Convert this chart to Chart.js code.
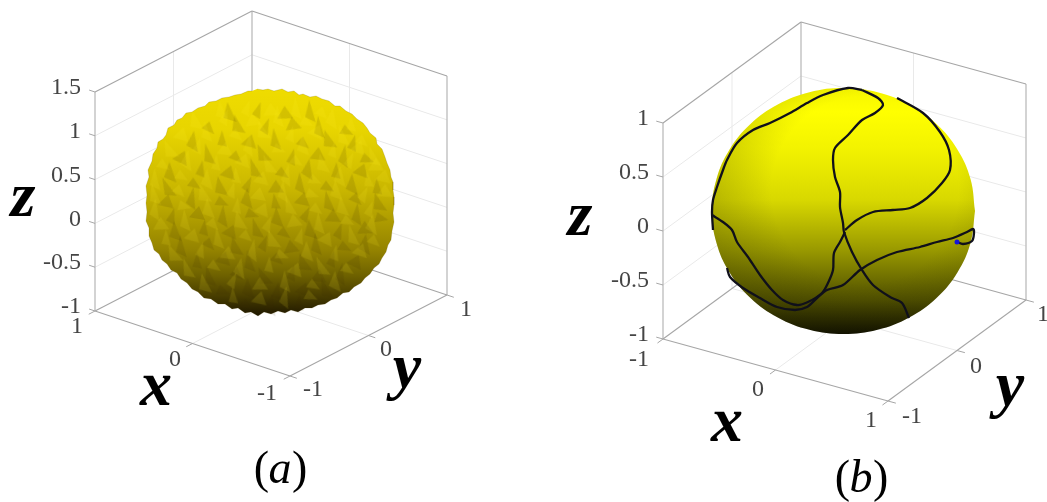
<!DOCTYPE html>
<html>
<head>
<meta charset="utf-8">
<title>sphere</title>
<script src="https://cdn.jsdelivr.net/npm/chart.js@4"></script>
<style>
  html, body { margin: 0; padding: 0; background: #fff; overflow: hidden; }
  canvas { display: block; }
</style>
</head>
<body>
<canvas id="chart" width="1047" height="502"></canvas>
<script>
// tick values
const xTicks = [-1, 0, 1];
const yTicks = [-1, 0, 1];
const zTicksA = [-1, -0.5, 0, 0.5, 1, 1.5];
const zTicksB = [-1, -0.5, 0, 0.5, 1];

// rough surface of (a), outline
const roughOutline = [[257,89],[263,90],[268,89],[274,91],[282,89],[288,92],[294,91],[299,95],[303,94],[310,97],[316,96],[322,99],[329,101],[335,106],[340,106],[346,111],[352,114],[357,119],[363,123],[367,128],[370,133],[376,138],[377,144],[382,149],[385,157],[387,163],[390,170],[391,177],[393,182],[393,190],[394,197],[394,205],[393,213],[394,222],[392,231],[391,240],[388,245],[386,252],[382,258],[379,264],[374,268],[370,274],[365,278],[361,283],[354,287],[349,292],[343,293],[337,298],[331,300],[325,304],[318,305],[312,308],[305,308],[298,312],[291,310],[285,313],[278,311],[271,314],[264,312],[258,316],[251,312],[245,313],[238,308],[232,309],[225,304],[218,304],[211,299],[204,298],[198,292],[192,289],[187,283],[181,279],[177,273],[171,270],[167,264],[162,260],[159,254],[154,250],[152,243],[149,236],[149,228],[146,221],[147,212],[146,203],[147,195],[146,186],[149,177],[148,170],[152,161],[153,154],[157,148],[158,142],[163,139],[166,135],[168,128],[174,125],[177,120],[182,118],[186,113],[192,112],[198,108],[205,106],[209,102],[216,101],[222,98],[229,97],[235,95],[241,94],[248,91],[252,91]];

// facets of (a)
const lightFacets = [[222,110],[246,108],[270,110],[297,108],[322,112],[196,120],[224,117],[252,120],[279,116],[306,121],[333,118],[350,124],[181,134],[207,131],[236,134],[263,130],[290,134],[316,131],[343,135],[362,140],[170,149],[197,146],[224,149],[250,145],[278,148],[304,145],[332,150],[358,147],[374,156],[163,164],[188,160],[215,163],[243,160],[269,164],[296,160],[323,163],[349,160],[375,165],[156,179],[181,175],[208,179],[235,176],[261,178],[288,175],[314,179],[341,176],[367,180],[383,176],[155,194],[179,190],[204,193],[231,190],[258,194],[284,191],[311,193],[337,190],[363,194],[384,191],[156,209],[183,205],[209,208],[236,206],[262,209],[290,205],[316,208],[343,206],[369,209],[160,224],[186,220],[213,223],[240,220],[267,224],[293,221],[320,223],[347,220],[373,224],[165,238],[192,235],[219,238],[246,235],[273,239],[299,236],[326,238],[353,235],[374,240],[174,253],[200,250],[227,253],[254,250],[281,254],[308,251],[334,253],[360,250],[188,268],[214,265],[241,268],[268,265],[295,269],[322,266],[347,268],[205,283],[232,280],[259,284],[286,281],[313,284],[336,281],[232,296],[259,298],[286,297],[310,295]];
const darkFacets = [[230,112],[257,110],[284,113],[311,111],[209,127],[238,124],[265,126],[292,124],[320,127],[346,130],[194,141],[221,139],[249,141],[276,139],[303,142],[329,139],[352,143],[181,157],[209,154],[236,156],[263,153],[291,157],[317,154],[345,156],[366,158],[171,172],[200,169],[228,172],[255,168],[282,172],[309,169],[335,171],[361,170],[168,187],[194,183],[221,186],[247,184],[275,187],[301,183],[327,186],[353,184],[376,187],[166,201],[193,198],[221,201],[248,198],[274,202],[302,199],[329,201],[356,198],[379,202],[171,216],[197,213],[224,216],[251,213],[278,217],[305,214],[332,216],[358,214],[380,217],[176,231],[203,228],[230,231],[257,228],[284,232],[311,229],[338,231],[364,228],[182,246],[209,243],[236,246],[263,243],[290,247],[317,244],[344,246],[366,244],[196,261],[223,258],[250,261],[277,258],[304,262],[331,259],[355,261],[210,276],[237,273],[264,276],[291,273],[318,276],[342,274],[222,290],[249,288],[276,291],[303,289],[326,288],[246,304],[272,305],[298,303]];

// smooth sphere of (b)
const smoothOutline = [[975,211],[970.5,179],[957.4,149.5],[936.5,124],[909.2,104.5],[877.5,92.2],[843.5,88],[809.5,92.2],[777.8,104.5],[750.5,124],[729.6,149.5],[716.5,179],[712,211],[716.5,243],[729.6,272.5],[750.5,298],[777.8,317.5],[809.5,329.8],[843.5,334],[877.5,329.8],[909.2,317.5],[936.5,298],[957.4,272.5],[970.5,243]];

// curves on the sphere of (b)
const curveOuter = [[862,90],[848,88],[823,95],[807,103],[790,113],[770,123],[753,130],[737,143],[727,160],[723,170],[717,187],[713,200],[712,212],[713,230]];
const curveLeft = [[712,215],[723,222],[732,230],[737,242],[748,257],[760,275],[772,290],[783,300],[797,305],[808,302],[822,293],[828,283],[833,270],[834,253],[840,242],[845,232]];
const curveLower = [[727,268],[730,277],[743,288],[760,298],[777,307],[795,310],[807,307],[817,298],[827,290],[843,285],[860,270],[877,260],[897,252],[920,247],[937,242],[953,238],[967,232],[973,229],[974,233],[972,241],[963,244],[957,242]];
const curveMiddle = [[862,90],[878,98],[883,105],[875,113],[862,120],[848,135],[835,148],[833,160],[835,177],[840,192],[840,207],[843,223],[844,232],[852,252],[862,270],[873,285],[890,297],[902,303],[909,318]];
const curveRight = [[845,230],[857,220],[873,212],[893,210],[910,208],[927,198],[942,183],[950,170],[949,150],[940,132],[923,113],[897,98]];
const startPoint = [[957,242]];

// view of each panel
const panelA = {
  o: [271, 215.4], ex: [-97.5, -32.5], ey: [78.5, -40.5], ez: [0, -87.6],
  backX: 1, frontX: -1, zTicks: zTicksA, zTop: 1.5,
  xOff: { '-1': [-23, 18], '0': [-17.5, 16.5], '1': [-18, 16] },
  yOff: { '-1': [23, 14], '0': [17.5, 14.5], '1': [19, 15] },
  yTickX: -1
};
const panelB = {
  o: [844.5, 211.5], ex: [112.5, 31], ey: [69, -50.5], ez: [0, -108],
  backX: -1, frontX: 1, zTicks: zTicksB, zTop: 1,
  xOff: { '-1': [-24, 21], '0': [-17.5, 20], '1': [-17, 20] },
  yOff: { '-1': [24, 16], '0': [19, 16.5], '1': [17, 15] },
  yTickX: 1
};

const EDGE = '#a6a6a6', WALL = '#bcbcbc', GRID = '#e9e9e9';
const datasets = [];

function project(p, x, y, z) {
  return {
    x: p.o[0] + x * p.ex[0] + y * p.ey[0] + z * p.ez[0],
    y: p.o[1] + x * p.ex[1] + y * p.ey[1] + z * p.ez[1]
  };
}

function add(ds) {
  ds.order = 5000 - datasets.length;
  datasets.push(ds);
}

function seg(p, a, b, color, width) {
  add({ data: [project(p, a[0], a[1], a[2]), project(p, b[0], b[1], b[2])], showLine: true, borderColor: color, borderWidth: width, pointRadius: 0, tension: 0 });
}

function addBox(p) {
  const top = p.zTop, back = p.backX, front = p.frontX;
  // grid on walls and floor
  p.zTicks.forEach(z => {
    if (z === -1 || z === top) return;
    seg(p, [back, -1, z], [back, 1, z], GRID, 1);
    seg(p, [back, 1, z], [front, 1, z], GRID, 1);
  });
  seg(p, [back, 0, -1], [back, 0, top], GRID, 1);
  seg(p, [0, 1, -1], [0, 1, top], GRID, 1);
  seg(p, [0, -1, -1], [0, 1, -1], GRID, 1);
  seg(p, [back, 0, -1], [front, 0, -1], GRID, 1);
  // outer edges
  seg(p, [back, -1, -1], [back, -1, top], WALL, 1.3);
  seg(p, [back, 1, -1], [back, 1, top], WALL, 1.3);
  seg(p, [front, 1, -1], [front, 1, top], WALL, 1.3);
  seg(p, [back, -1, top], [back, 1, top], EDGE, 1.1);
  seg(p, [back, 1, top], [front, 1, top], EDGE, 1.1);
  seg(p, [back, -1, -1], [back, 1, -1], EDGE, 1.1);
  seg(p, [back, 1, -1], [front, 1, -1], EDGE, 1.1);
  seg(p, [back, -1, -1], [front, -1, -1], EDGE, 1.1);
  seg(p, [front, -1, -1], [front, 1, -1], EDGE, 1.1);
  // ticks
  p.zTicks.forEach(z => seg(p, [back, -1, z], [back * 1.06, -1, z], EDGE, 1));
  xTicks.forEach(x => seg(p, [x, -1, -1], [x, -1.08, -1], EDGE, 1));
  yTicks.forEach(y => seg(p, [p.yTickX, y, -1], [p.yTickX * 1.07, y, -1], EDGE, 1));
}

function pts(list) {
  return list.map(d => ({ x: d[0], y: d[1] }));
}

// a few facet shapes, soft edged like the picture
function facetSprite(color, w, h, tip) {
  const c = document.createElement('canvas');
  c.width = w + 4; c.height = h + 4;
  const g = c.getContext('2d');
  g.filter = 'blur(0.6px)';
  g.fillStyle = color;
  g.beginPath();
  g.moveTo(2 + tip, 2); g.lineTo(2 + w, 2 + h); g.lineTo(2, 2 + h * 0.8);
  g.closePath();
  g.fill();
  return c;
}
function facetSet(color) {
  return [facetSprite(color, 13, 20, 4), facetSprite(color, 9, 17, 7), facetSprite(color, 16, 14, 10), facetSprite(color, 11, 22, 3), facetSprite(color, 14, 11, 6)];
}
const facetTurn = [0, 9, -12, 4, 16, -7, 11, -18, 3, -4, 14, -10, 6];

function facetDataset(list, color) {
  const set = facetSet(color);
  return {
    data: pts(list), showLine: false, pointRadius: 7,
    pointStyle: ctx => set[ctx.dataIndex % set.length],
    pointRotation: ctx => facetTurn[ctx.dataIndex % facetTurn.length]
  };
}

// vertical shade through the y scale
function shade(stops) {
  return function (ctx) {
    const chart = ctx.chart;
    if (!chart.chartArea) return stops[0][1];
    const sy = chart.scales.y;
    const a = stops[0][0], b = stops[stops.length - 1][0];
    const grad = chart.ctx.createLinearGradient(0, sy.getPixelForValue(a), 0, sy.getPixelForValue(b));
    stops.forEach(s => grad.addColorStop((s[0] - a) / (b - a), s[1]));
    return grad;
  };
}

// darker rim on the left side of the smooth sphere
function rim(ctx) {
  const chart = ctx.chart;
  if (!chart.chartArea) return 'rgba(0,0,0,0)';
  const cx = chart.scales.x.getPixelForValue(865), cy = chart.scales.y.getPixelForValue(190);
  const grad = chart.ctx.createRadialGradient(cx, cy, 0, cx, cy, 170);
  grad.addColorStop(0, 'rgba(40,40,0,0)');
  grad.addColorStop(0.55, 'rgba(40,40,0,0)');
  grad.addColorStop(1, 'rgba(40,40,0,0.25)');
  return grad;
}

addBox(panelA);
addBox(panelB);

add({ data: pts(roughOutline), showLine: true, fill: 'shape', tension: 0, pointRadius: 0, borderWidth: 0.5, borderColor: 'rgba(90,75,0,0.35)',
  backgroundColor: shade([[88, '#efdc00'], [130, '#e8d500'], [190, '#c9b600'], [250, '#948300'], [275, '#6f6200'], [295, '#4a3f00'], [316, '#1e1700']]) });
add(facetDataset(darkFacets, 'rgba(55,40,0,0.13)'));
add(facetDataset(lightFacets, 'rgba(255,240,40,0.13)'));

const closedSphere = pts(smoothOutline.concat([smoothOutline[0]]));
add({ data: closedSphere, showLine: true, fill: 'shape', tension: 0.4, pointRadius: 0, borderWidth: 0,
  backgroundColor: shade([[88, '#f6f600'], [112, '#ffff00'], [150, '#f2f200'], [200, '#d8d800'], [250, '#999900'], [300, '#4f4f00'], [334, '#0e0e00']]) });
add({ data: closedSphere, showLine: true, fill: 'shape', tension: 0.4, pointRadius: 0, borderWidth: 0, backgroundColor: rim });

[curveOuter, curveLeft, curveLower, curveMiddle, curveRight].forEach(c => {
  add({ data: pts(c), showLine: true, borderColor: '#10101a', borderWidth: 2.3, tension: 0.3, pointRadius: 0 });
});
add({ data: pts(startPoint), showLine: false, pointRadius: 2.5, pointBackgroundColor: '#1414d8', pointBorderWidth: 0 });

const TICK_FONT = '24px "Liberation Serif"';
const MATH_FONT = 'italic bold 64px "Liberation Serif"';

const axisNames = [
  { t: 'x', x: 156, y: 405 }, { t: 'y', x: 407, y: 387 }, { t: 'z', x: 23, y: 216 },
  { t: 'x', x: 727, y: 441 }, { t: 'y', x: 1010, y: 405 }, { t: 'z', x: 580, y: 235 }
];
const captions = [{ t: 'a', x: 280, y: 483 }, { t: 'b', x: 861, y: 492 }];

function drawTicks(g, sx, sy, p) {
  g.font = TICK_FONT;
  g.fillStyle = '#454545';
  g.textBaseline = 'middle';
  g.textAlign = 'right';
  p.zTicks.forEach(z => {
    const q = project(p, p.backX, -1, z);
    g.fillText(String(z), sx.getPixelForValue(q.x - 14), sy.getPixelForValue(q.y - 4));
  });
  g.textAlign = 'center';
  xTicks.forEach(x => {
    const q = project(p, x, -1, -1), off = p.xOff[x];
    g.fillText(String(x), sx.getPixelForValue(q.x + off[0]), sy.getPixelForValue(q.y + off[1]));
  });
  yTicks.forEach(y => {
    const q = project(p, p.yTickX, y, -1), off = p.yOff[y];
    g.fillText(String(y), sx.getPixelForValue(q.x + off[0]), sy.getPixelForValue(q.y + off[1]));
  });
}

const textPlugin = {
  id: 'text',
  afterDatasetsDraw(chart) {
    const g = chart.ctx, sx = chart.scales.x, sy = chart.scales.y;
    g.save();
    drawTicks(g, sx, sy, panelA);
    drawTicks(g, sx, sy, panelB);
    g.fillStyle = '#000';
    g.textAlign = 'center';
    g.textBaseline = 'alphabetic';
    g.font = MATH_FONT;
    axisNames.forEach(n => g.fillText(n.t, sx.getPixelForValue(n.x), sy.getPixelForValue(n.y)));
    // upright brackets, slanted letter
    captions.forEach(c => {
      const px = sx.getPixelForValue(c.x), py = sy.getPixelForValue(c.y);
      g.font = '46px "Liberation Serif"';
      g.textAlign = 'right';
      g.fillText('(', px - 11, py);
      g.textAlign = 'left';
      g.fillText(')', px + 12, py);
      g.font = 'italic 46px "Liberation Serif"';
      g.textAlign = 'center';
      g.fillText(c.t, px, py);
    });
    g.restore();
  }
};

new Chart(document.getElementById('chart'), {
  type: 'scatter',
  data: { datasets: datasets },
  plugins: [textPlugin],
  options: {
    responsive: false,
    animation: false,
    devicePixelRatio: 1,
    layout: { padding: 0, autoPadding: false },
    plugins: { legend: { display: false }, tooltip: { enabled: false } },
    scales: {
      x: { type: 'linear', display: false, min: 0, max: 1047 },
      y: { type: 'linear', display: false, min: 0, max: 502, reverse: true }
    }
  }
});
</script>
</body>
</html>
